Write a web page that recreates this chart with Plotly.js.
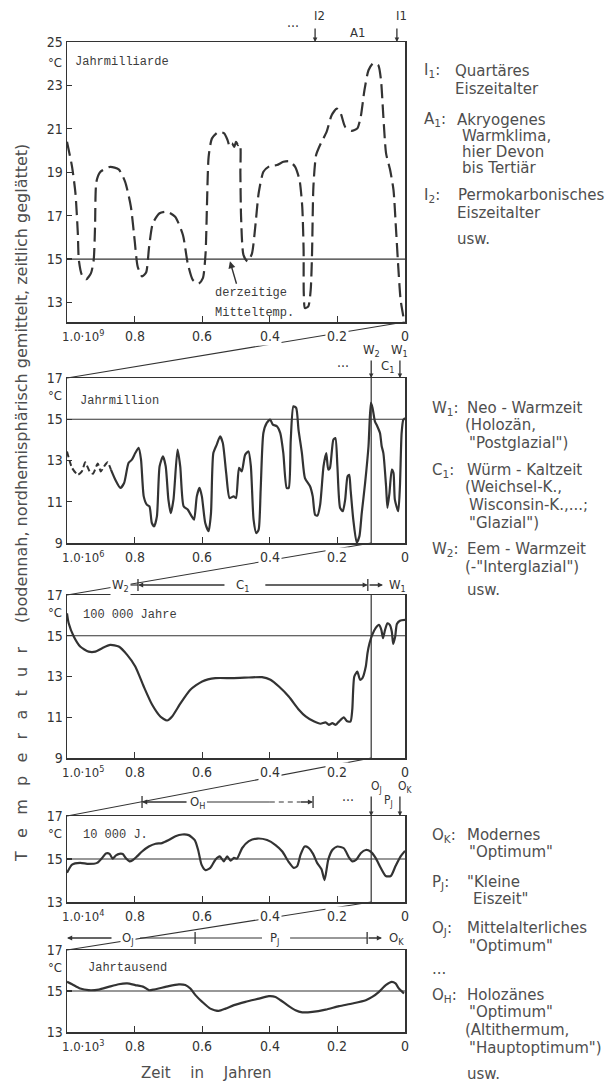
<!DOCTYPE html>
<html><head><meta charset="utf-8">
<script src="https://cdn.plot.ly/plotly-3.0.1.min.js"></script>
<style>html,body{margin:0;padding:0;background:#fff}</style>
</head><body><div id="chart" style="width:615px;height:1085px"></div>
<script>
// ---------------- DATA ----------------
const scales = [1e9, 1e6, 1e5, 1e4, 1e3];
const scaleExp = ['9', '6', '5', '4', '3'];
const panelNames = ['Jahrmilliarde', 'Jahrmillion', '100 000 Jahre', '10 000 J.', 'Jahrtausend'];
const yRanges = [[12.1, 25], [9, 17], [9, 17], [13, 17], [13, 17]];
const yTicks = [[13, 15, 17, 19, 21, 23, 25], [9, 11, 13, 15, 17], [9, 11, 13, 15, 17], [13, 15, 17], [13, 15, 17]];
const xTickVals = [0.8, 0.6, 0.4, 0.2];
const xLabelVals = [0.8, 0.6, 0.4, 0.2, 0];
const xLabelText = ['0.8', '0.6', '0.4', '0.2', '0'];
const meanTemp = 15;

// Panel 1: Jahrmilliarde (dashed)
const p1X = [1.000,0.985,0.975,0.968,0.965,0.956,0.943,0.929,0.921,0.917,0.913,0.901,0.872,0.847,0.828,0.811,0.800,0.791,0.778,0.766,0.757,0.746,0.726,0.704,0.680,0.657,0.643,0.628,0.611,0.598,0.590,0.586,0.581,0.571,0.552,0.535,0.525,0.519,0.512,0.505,0.500,0.494,0.488,0.487,0.485,0.478,0.466,0.453,0.443,0.433,0.419,0.401,0.379,0.360,0.342,0.325,0.312,0.304,0.300,0.2995,0.296,0.286,0.279,0.275,0.271,0.263,0.249,0.232,0.217,0.202,0.190,0.177,0.158,0.141,0.131,0.120,0.108,0.094,0.079,0.071,0.064,0.056,0.044,0.034,0.027,0.020,0.013,0.005];
const p1Y = [20.40,19.25,18.03,16.19,14.96,14.27,14.07,14.35,14.96,16.49,18.56,19.02,19.25,19.13,18.56,17.41,15.88,14.66,14.20,14.38,15.57,16.65,17.11,17.18,16.95,16.11,14.81,14.04,13.86,14.12,15.27,17.41,19.71,20.56,20.86,20.79,20.48,20.20,20.33,20.17,20.40,20.25,20.30,18.95,16.95,15.19,14.89,15.24,16.49,18.03,19.02,19.28,19.33,19.48,19.51,19.25,18.64,17.41,15.42,13.43,12.74,12.82,13.58,15.27,18.33,19.79,20.33,20.86,21.63,21.93,21.70,21.09,20.91,21.02,21.55,22.78,23.70,24.03,23.93,23.24,21.55,19.87,19.10,18.18,16.49,14.66,13.12,12.36];

// Panel 2: Jahrmillion (dashed start, then solid)
const p2DashX = [1.000,0.985,0.968,0.956,0.946,0.933,0.923,0.909,0.900,0.890,0.880,0.870];
const p2DashY = [13.44,12.64,12.31,12.47,12.91,12.47,12.36,12.85,12.47,12.72,12.91,12.56];
const p2X = [0.870,0.857,0.842,0.831,0.818,0.808,0.798,0.788,0.781,0.773,0.764,0.756,0.749,0.742,0.734,0.726,0.716,0.708,0.700,0.693,0.685,0.673,0.665,0.655,0.643,0.631,0.624,0.616,0.608,0.601,0.591,0.581,0.574,0.567,0.557,0.547,0.539,0.529,0.519,0.507,0.500,0.491,0.483,0.473,0.463,0.456,0.448,0.440,0.433,0.427,0.419,0.409,0.399,0.391,0.379,0.369,0.360,0.350,0.344,0.338,0.330,0.322,0.315,0.305,0.296,0.281,0.273,0.266,0.259,0.251,0.241,0.233,0.227,0.222,0.212,0.206,0.200,0.192,0.184,0.177,0.170,0.165,0.161,0.153,0.143,0.135,0.128,0.118,0.108,0.101,0.096,0.089,0.082,0.074,0.069,0.064,0.056,0.052,0.046,0.039,0.034,0.030,0.020,0.015,0.010,0.005,0.000];
const p2Y = [12.56,12.07,11.67,11.91,12.88,13.04,13.36,13.61,13.04,11.26,10.86,10.78,9.97,9.81,10.29,12.72,13.20,12.72,11.10,10.45,11.10,13.53,12.72,10.78,10.62,10.29,10.13,11.26,11.67,11.26,9.97,9.57,10.45,13.36,13.77,14.17,13.85,12.39,11.18,11.26,11.18,12.64,12.47,13.28,13.44,12.72,10.13,9.48,9.65,11.59,14.33,14.82,14.98,14.74,14.66,14.33,13.36,11.67,11.67,14.01,15.63,15.55,14.49,13.36,12.15,11.75,11.26,10.37,10.33,10.86,12.72,13.36,12.56,12.64,14.01,14.09,12.72,10.70,10.54,11.10,12.23,12.31,11.59,10.13,9.02,9.32,10.45,11.91,13.69,15.79,15.55,14.90,14.66,14.33,13.69,13.36,11.75,10.70,11.42,12.56,12.39,11.10,10.54,11.75,14.33,14.98,15.06];

// Panel 3: 100 000 Jahre
const p3X = [1.000,0.995,0.980,0.961,0.936,0.916,0.896,0.872,0.847,0.822,0.798,0.773,0.748,0.724,0.704,0.689,0.664,0.635,0.600,0.561,0.511,0.462,0.423,0.398,0.373,0.344,0.314,0.294,0.270,0.250,0.235,0.225,0.215,0.205,0.195,0.181,0.171,0.161,0.156,0.150,0.141,0.133,0.126,0.116,0.111,0.105,0.097,0.087,0.077,0.070,0.065,0.059,0.052,0.045,0.039,0.035,0.029,0.024,0.015,0.000];
const p3Y = [16.10,15.61,14.96,14.47,14.22,14.22,14.39,14.55,14.47,14.06,13.49,12.51,11.61,11.04,10.84,11.04,11.69,12.35,12.76,12.92,12.92,12.95,12.97,12.84,12.51,12.02,11.37,11.04,10.80,10.68,10.75,10.63,10.71,10.63,10.80,10.99,10.80,10.80,11.37,13.00,13.24,12.84,12.92,13.49,14.14,14.63,15.04,15.37,15.53,15.29,14.88,15.29,15.61,15.53,15.20,14.60,14.96,15.58,15.74,15.78];

// Panel 4: 10 000 J.
const p4X = [1.000,0.985,0.961,0.936,0.911,0.896,0.885,0.874,0.865,0.855,0.845,0.835,0.825,0.815,0.806,0.793,0.778,0.758,0.738,0.719,0.699,0.679,0.659,0.640,0.622,0.612,0.602,0.590,0.576,0.561,0.548,0.536,0.526,0.516,0.506,0.497,0.482,0.462,0.437,0.408,0.383,0.363,0.344,0.329,0.319,0.309,0.297,0.286,0.272,0.260,0.247,0.238,0.227,0.215,0.200,0.181,0.166,0.156,0.144,0.131,0.116,0.102,0.087,0.072,0.057,0.042,0.028,0.013,0.000];
const p4Y = [14.36,14.74,14.82,14.77,14.82,15.05,15.26,15.24,15.02,15.17,15.24,15.23,15.02,14.89,14.94,15.12,15.35,15.58,15.71,15.74,15.88,16.06,16.14,16.11,15.88,15.42,14.74,14.48,14.59,14.97,15.12,14.89,15.12,14.92,15.05,15.02,15.50,15.83,15.95,15.88,15.65,15.35,14.86,14.59,14.67,15.20,15.58,15.53,15.24,14.82,14.52,14.02,14.97,15.42,15.58,15.50,15.08,14.89,14.97,15.27,15.42,15.35,15.05,14.59,14.21,14.21,14.67,15.12,15.38];

// Panel 5: Jahrtausend
const p5X = [1.000,0.985,0.961,0.936,0.906,0.877,0.847,0.822,0.798,0.773,0.758,0.743,0.729,0.699,0.669,0.650,0.635,0.620,0.600,0.576,0.551,0.531,0.506,0.472,0.432,0.403,0.383,0.368,0.348,0.324,0.304,0.274,0.235,0.195,0.156,0.116,0.097,0.077,0.057,0.039,0.028,0.018,0.003];
const p5Y = [15.45,15.33,15.12,15.04,15.07,15.20,15.33,15.37,15.29,15.20,15.04,15.07,15.12,15.24,15.32,15.29,15.12,14.80,14.47,14.14,14.03,14.14,14.31,14.47,14.63,14.75,14.71,14.55,14.31,14.06,13.96,13.98,14.09,14.26,14.39,14.55,14.71,14.96,15.29,15.45,15.37,15.12,14.88];

// Period markers (x in panel units)
const markI2 = 0.266, markI1 = 0.024, markA1 = 0.142;
const markW2 = 0.1, markW1 = 0.015, markC1 = 0.053;
const c1Start = 0.79, c1End = 0.11;
const ohStart = 0.778, ohEnd = 0.272, ojMark = 0.1, okMark = 0.015;
const pjStart = 0.621, pjEnd = 0.112;

// ---------------- LAYOUT ----------------
const W = 615, H = 1085;
const INK = '#333333', BG = '#ffffff', TXT = '#4e4e4e';
const TICKF = 'Liberation Sans Narrow, DejaVu Sans Condensed, Arial Narrow, sans-serif';
const MONO = 'Liberation Mono, DejaVu Sans Mono, monospace';
const SANS = 'DejaVu Sans, Noto Sans, sans-serif';
const L = 67, R = 405;
const panelTop = [42, 378, 595, 816, 950];
const panelBot = [322, 543, 758, 902, 1032];
const P = v => v / W;
const Q = v => 1 - v / H;
const xn = i => i === 0 ? 'x' : 'x' + (i + 1);
const yn = i => i === 0 ? 'y' : 'y' + (i + 1);

const series = [[p1X, p1Y], [p2X, p2Y], [p3X, p3Y], [p4X, p4Y], [p5X, p5Y]];
const traces = [];
series.forEach((s, i) => {
  traces.push({x: [1, 0], y: [meanTemp, meanTemp], xaxis: xn(i), yaxis: yn(i), mode: 'lines',
    line: {color: INK, width: 1.2}, hoverinfo: 'skip'});
  traces.push({x: s[0], y: s[1], xaxis: xn(i), yaxis: yn(i), mode: 'lines',
    line: {color: INK, width: 2.2, shape: 'spline', smoothing: 0.6, dash: i === 0 ? '14px,6px' : 'solid'}});
});
traces.push({x: p2DashX, y: p2DashY, xaxis: 'x2', yaxis: 'y2', mode: 'lines',
  line: {color: INK, width: 2, shape: 'spline', smoothing: 0.6, dash: '6px,3px'}});
[1, 2, 3].forEach(i => {
  traces.push({x: [markW2, markW2], y: yRanges[i], xaxis: xn(i), yaxis: yn(i), mode: 'lines',
    line: {color: INK, width: 1.2}, hoverinfo: 'skip'});
});

const layout = {
  width: W, height: H, margin: {l: 0, r: 0, t: 0, b: 0},
  paper_bgcolor: BG, plot_bgcolor: BG, showlegend: false,
  shapes: [], annotations: []
};
for (let i = 0; i < 5; i++) {
  const ks = i === 0 ? '' : String(i + 1);
  layout['xaxis' + ks] = {domain: [P(L), P(R)], range: [1, 0], anchor: yn(i),
    showline: true, mirror: true, linecolor: INK, linewidth: 1.5, showgrid: false, zeroline: false,
    ticks: 'inside', ticklen: 6, tickwidth: 1.2, tickcolor: INK, tickvals: xTickVals, showticklabels: false, fixedrange: true};
  layout['yaxis' + ks] = {domain: [Q(panelBot[i]), Q(panelTop[i])], range: yRanges[i], anchor: xn(i),
    showline: true, mirror: true, linecolor: INK, linewidth: 1.5, showgrid: false, zeroline: false,
    ticks: 'inside', ticklen: 5, tickwidth: 1.2, tickcolor: INK, tickvals: yTicks[i],
    tickfont: {family: TICKF, size: 14, color: INK}, fixedrange: true};
}

const ann = layout.annotations, shp = layout.shapes;
const txt = o => ann.push(Object.assign({showarrow: false, xanchor: 'center', yanchor: 'middle', font: {family: TICKF, size: 14, color: INK}}, o));
const arr = o => ann.push(Object.assign({text: '', showarrow: true, arrowhead: 2, arrowsize: 1, arrowwidth: 1.3, arrowcolor: INK, standoff: 0, startstandoff: 0}, o));
const hseg = (xr, x0, x1, ypx, dash) => shp.push({type: 'line', xref: xr, yref: 'paper', x0: x0, x1: x1, y0: Q(ypx), y1: Q(ypx), line: {color: INK, width: 1.2, dash: dash || 'solid'}});
const vtick = (xr, x, ypx) => shp.push({type: 'line', xref: xr, yref: 'paper', x0: x, x1: x, y0: Q(ypx - 6), y1: Q(ypx + 6), line: {color: INK, width: 1.3}});
const small = {family: TICKF, size: 13, color: INK};

for (let i = 0; i < 5; i++) {
  const yl = Q(panelBot[i] + 14);
  xLabelVals.forEach((v, k) => txt({xref: xn(i), yref: 'paper', x: v, y: yl, text: xLabelText[k], bgcolor: BG, borderpad: 1}));
  txt({xref: xn(i), yref: 'paper', x: 1, xanchor: 'left', xshift: -7, y: yl, text: '1.0·10<sup>' + scaleExp[i] + '</sup>', font: small});
  txt({xref: 'paper', yref: 'paper', x: P(L), xanchor: 'right', xshift: -3, y: Q(panelTop[i] + (i === 0 ? 20 : 17)), text: '°C', font: small});
  if (i < 4) {
    shp.push({type: 'line', xref: xn(i), yref: 'paper', x0: 1, x1: scales[i + 1] / scales[i],
      y0: Q(panelTop[i + 1]), y1: Q(panelBot[i]), line: {color: INK, width: 1.1}});
  }
}
// panel names
const nameLeft = [73, 78, 81, 81, 86];
const nameDy = [20, 23, 20, 19, 18];
panelNames.forEach((n, i) => txt({xref: 'paper', yref: 'paper', x: P(nameLeft[i]), xanchor: 'left', y: Q(panelTop[i] + nameDy[i]), text: n, font: {family: MONO, size: 12, color: '#3c3c3c'}}));

// derzeitige Mitteltemp.
txt({xref: 'paper', yref: 'paper', x: P(213), xanchor: 'left', y: Q(293), text: 'derzeitige', font: {family: MONO, size: 12, color: '#3c3c3c'}});
txt({xref: 'paper', yref: 'paper', x: P(213), xanchor: 'left', y: Q(313), text: 'Mitteltemp.', font: {family: MONO, size: 12, color: '#3c3c3c'}});
arr({xref: 'x', yref: 'y', x: 0.518, y: 14.9, ax: 7, ay: 24, arrowhead: 2, arrowwidth: 1.4});

// Panel 1 top markers
txt({xref: 'x', yref: 'paper', x: 0.331, y: Q(26), text: '···'});
txt({xref: 'x', yref: 'paper', x: markI2, xanchor: 'left', xshift: -3, y: Q(15), text: 'I2', font: small});
arr({xref: 'x', yref: 'paper', x: markI2, y: Q(42), ax: 0, ay: -15, arrowsize: 0.7});
txt({xref: 'x', yref: 'paper', x: markA1, y: Q(32), text: 'A1', font: small});
txt({xref: 'x', yref: 'paper', x: markI1, xanchor: 'left', xshift: -3, y: Q(15), text: 'I1', font: small});
arr({xref: 'x', yref: 'paper', x: markI1, y: Q(42), ax: 0, ay: -15, arrowsize: 0.7});

// Panel 2 top markers
txt({xref: 'x2', yref: 'paper', x: 0.183, y: Q(366), text: '···'});
txt({xref: 'x2', yref: 'paper', x: markW2, y: Q(351), text: 'W<sub>2</sub>', font: small});
arr({xref: 'x2', yref: 'paper', x: markW2, y: Q(378), ax: 0, ay: -19, arrowsize: 0.7});
txt({xref: 'x2', yref: 'paper', x: markC1, y: Q(366), text: 'C<sub>1</sub>', font: small});
txt({xref: 'x2', yref: 'paper', x: markW1, y: Q(351), text: 'W<sub>1</sub>', font: small});
arr({xref: 'x2', yref: 'paper', x: markW1, y: Q(378), ax: 0, ay: -19, arrowsize: 0.7});

// Panel 3 top: W2 |<-- C1 -->| -> W1
const y3 = 585;
txt({xref: 'x3', yref: 'paper', x: 0.843, y: Q(y3), text: 'W<sub>2</sub>', bgcolor: BG, font: small});
hseg('x3', 0.822, c1Start, y3);
vtick('x3', c1Start, y3);
arr({xref: 'x3', yref: 'paper', x: c1Start, y: Q(y3), ax: 88, ay: 0, arrowsize: 0.8});
txt({xref: 'x3', yref: 'paper', x: 0.482, y: Q(y3), text: 'C<sub>1</sub>', font: small});
arr({xref: 'x3', yref: 'paper', x: c1End, y: Q(y3), ax: -104, ay: 0, arrowsize: 0.8});
vtick('x3', c1End, y3);
arr({xref: 'x3', yref: 'paper', x: 0.065, y: Q(y3), ax: -15, ay: 0, arrowsize: 0.8});
txt({xref: 'x3', yref: 'paper', x: 0.021, y: Q(y3), text: 'W<sub>1</sub>', font: small});

// Panel 4 top: |<-- OH ---- - - ->|  ...  OJ PJ OK
const y4 = 802;
vtick('x4', ohStart, y4);
arr({xref: 'x4', yref: 'paper', x: ohStart, y: Q(y4), ax: 46, ay: 0, arrowsize: 0.8});
txt({xref: 'x4', yref: 'paper', x: 0.615, y: Q(y4), text: 'O<sub>H</sub>', font: small});
hseg('x4', 0.586, 0.40, y4);
hseg('x4', 0.40, 0.31, y4, '5px,4px');
arr({xref: 'x4', yref: 'paper', x: ohEnd, y: Q(y4), ax: -14, ay: 0, arrowsize: 0.8});
vtick('x4', ohEnd, y4);
txt({xref: 'x4', yref: 'paper', x: 0.169, y: Q(800), text: '···'});
txt({xref: 'x4', yref: 'paper', x: 0.085, y: Q(787), text: 'O<sub>J</sub>', font: {family: TICKF, size: 12, color: INK}});
arr({xref: 'x4', yref: 'paper', x: ojMark, y: Q(816), ax: 0, ay: -21, arrowsize: 0.7});
txt({xref: 'x4', yref: 'paper', x: 0.050, y: Q(801), text: 'P<sub>J</sub>', font: {family: TICKF, size: 12, color: INK}});
txt({xref: 'x4', yref: 'paper', x: 0.0, y: Q(787), text: 'O<sub>K</sub>', font: {family: TICKF, size: 12, color: INK}});
arr({xref: 'x4', yref: 'paper', x: okMark, y: Q(816), ax: 0, ay: -21, arrowsize: 0.7});

// Panel 5 top: <-- OJ ---|--- PJ ---|-> OK
const y5 = 938;
arr({xref: 'x5', yref: 'paper', x: 1.0, y: Q(y5), ax: 46, ay: 0, arrowsize: 0.8});
txt({xref: 'x5', yref: 'paper', x: 0.82, y: Q(y5), text: 'O<sub>J</sub>', bgcolor: BG, font: small});
hseg('x5', 0.784, 0.423, y5);
vtick('x5', pjStart, y5);
txt({xref: 'x5', yref: 'paper', x: 0.385, y: Q(y5), text: 'P<sub>J</sub>', font: small});
hseg('x5', 0.34, pjEnd, y5);
vtick('x5', pjEnd, y5);
arr({xref: 'x5', yref: 'paper', x: 0.068, y: Q(y5), ax: -15, ay: 0, arrowsize: 0.8});
txt({xref: 'x5', yref: 'paper', x: 0.024, y: Q(y5), text: 'O<sub>K</sub>', font: small});

// Axis titles
const sp = '\u2002\u2004';
txt({xref: 'paper', yref: 'paper', x: P(21), y: Q(503), textangle: -90,
  text: ['T','e','m','p','e','r','a','t','u','r'].join(sp) + '\u2003\u2002(bodennah, nordhemisphärisch gemittelt, zeitlich geglättet)',
  font: {family: SANS, size: 16, color: TXT}});
txt({xref: 'paper', yref: 'paper', x: P(206), y: Q(1073), text: 'Zeit\u2003 in\u2003 Jahren', font: {family: SANS, size: 15, color: TXT}});

// Right-hand explanations: [prefix, text, prefix x, text x, y]
const notes = [
  ['I<sub>1</sub>:', 'Quartäres', 422, 453, 71], ['', 'Eiszeitalter', 0, 453, 89],
  ['A<sub>1</sub>:', 'Akryogenes', 422, 455, 120], ['', 'Warmklima,', 0, 460, 136],
  ['', 'hier Devon', 0, 460, 152], ['', 'bis Tertiär', 0, 460, 168],
  ['I<sub>2</sub>:', 'Permokarbonisches', 422, 456, 195], ['', 'Eiszeitalter', 0, 455, 213],
  ['', 'usw.', 0, 455, 239],
  ['W<sub>1</sub>:', 'Neo - Warmzeit', 430, 465, 408], ['', '(Holozän,', 0, 463, 425],
  ['', '"Postglazial")', 0, 467, 443],
  ['C<sub>1</sub>:', 'Würm - Kaltzeit', 430, 465, 470], ['', '(Weichsel-K.,', 0, 463, 487],
  ['', 'Wisconsin-K.,...;', 0, 467, 505], ['', '"Glazial")', 0, 467, 523],
  ['W<sub>2</sub>:', 'Eem - Warmzeit', 430, 465, 549], ['', '(-"Interglazial")', 0, 463, 567],
  ['', 'usw.', 0, 465, 590],
  ['O<sub>K</sub>:', 'Modernes', 430, 465, 835], ['', '"Optimum"', 0, 467, 852],
  ['P<sub>J</sub>:', '"Kleine', 430, 465, 882], ['', 'Eiszeit"', 0, 471, 899],
  ['O<sub>J</sub>:', 'Mittelalterliches', 430, 465, 928], ['', '"Optimum"', 0, 467, 946],
  ['...', '', 430, 465, 969],
  ['O<sub>H</sub>:', 'Holozänes', 430, 465, 995], ['', '"Optimum"', 0, 467, 1012],
  ['', '(Altithermum,', 0, 463, 1030], ['', '"Hauptoptimum")', 0, 467, 1048],
  ['', 'usw.', 0, 465, 1074]
];
const noteFont = {family: SANS, size: 15, color: TXT};
notes.forEach(n => {
  if (n[0]) txt({xref: 'paper', yref: 'paper', x: P(n[2]), xanchor: 'left', y: Q(n[4]), text: n[0], font: noteFont});
  if (n[1]) txt({xref: 'paper', yref: 'paper', x: P(n[3]), xanchor: 'left', y: Q(n[4]), text: n[1], font: noteFont});
});

Plotly.newPlot('chart', traces, layout, {staticPlot: true, displayModeBar: false});
</script>
</body></html>
